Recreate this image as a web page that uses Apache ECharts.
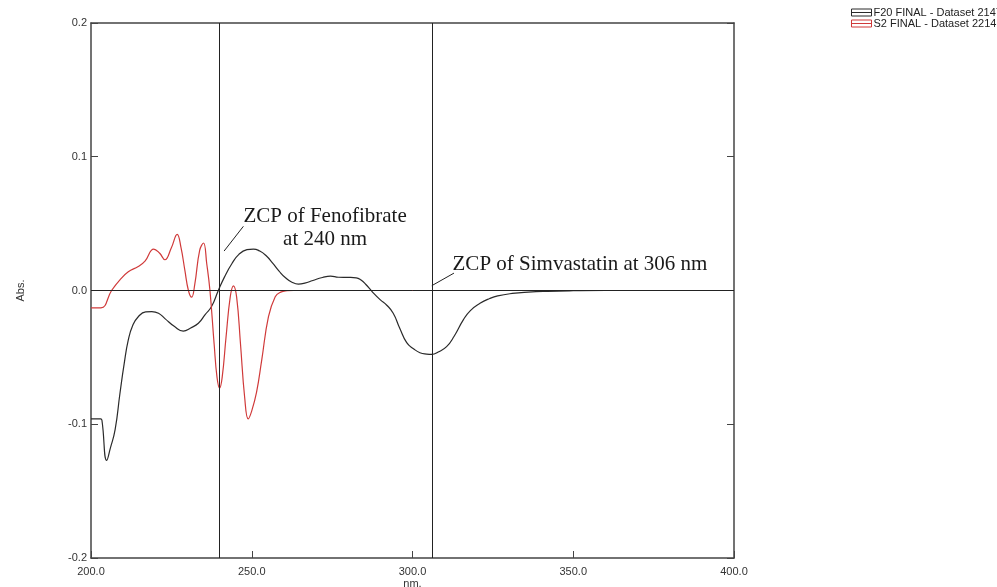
<!DOCTYPE html>
<html>
<head>
<meta charset="utf-8">
<script src="https://cdn.jsdelivr.net/npm/echarts@6/dist/echarts.min.js"></script>
<style>
  html, body { margin: 0; padding: 0; background: #fff; }
  #chart { width: 997px; height: 587px; }
</style>
</head>
<body>
<div id="chart"></div>
<script>
// First-derivative UV spectra (wavelength in nm, absorbance)
const f20Nm = [200.0, 203.0, 203.4, 204.9, 206.0, 207.5, 209.0, 210.3, 211.6, 213.0, 214.7, 217.0, 218.9, 221.0, 223.0, 226.0, 228.7, 231.0, 233.4, 235.5, 237.5, 239.6, 241.5, 243.8, 246.0, 248.5, 250.5, 252.5, 254.5, 256.5, 258.5, 260.5, 262.5, 264.5, 266.5, 269.0, 272.0, 274.5, 277.0, 280.0, 282.5, 284.0, 285.5, 287.5, 290.0, 292.0, 294.0, 296.0, 298.2, 300.3, 302.3, 304.4, 306.0, 308.0, 310.6, 313.0, 315.8, 318.0, 321.0, 324.0, 326.5, 331.0, 336.0, 342.0, 350.0, 360.0, 400.0];
const f20Abs = [-0.096, -0.096, -0.097, -0.127, -0.118, -0.104, -0.077, -0.055, -0.037, -0.026, -0.0196, -0.016, -0.0158, -0.017, -0.021, -0.027, -0.0303, -0.028, -0.0245, -0.018, -0.012, 0.0, 0.010, 0.020, 0.027, 0.0305, 0.031, 0.0295, 0.026, 0.0205, 0.0145, 0.0095, 0.0062, 0.0048, 0.0055, 0.0075, 0.0097, 0.0107, 0.0099, 0.0098, 0.0095, 0.0078, 0.0045, -0.001, -0.007, -0.011, -0.017, -0.028, -0.039, -0.0435, -0.0465, -0.0475, -0.0477, -0.046, -0.042, -0.034, -0.022, -0.015, -0.0096, -0.006, -0.0040, -0.0022, -0.0012, -0.0006, -0.0002, 0.0, 0.0];

const s2Nm = [200.0, 203.1, 206.4, 209.0, 211.6, 214.7, 216.8, 219.5, 221.3, 223.0, 225.0, 226.8, 228.0, 229.2, 230.3, 231.3, 232.3, 233.8, 235.0, 236.0, 237.0, 238.3, 239.2, 240.0, 240.8, 242.0, 243.3, 244.3, 245.3, 246.5, 247.8, 248.9, 250.0, 251.5, 253.1, 255.2, 257.3, 259.0, 261.0, 263.0, 400.0];
const s2Abs = [-0.013, -0.013, 0.0, 0.008, 0.014, 0.018, 0.022, 0.031, 0.028, 0.023, 0.032, 0.042, 0.032, 0.015, 0.0, -0.005, 0.005, 0.030, 0.0355, 0.020, 0.0, -0.040, -0.065, -0.073, -0.065, -0.035, -0.005, 0.0035, -0.005, -0.040, -0.080, -0.096, -0.090, -0.076, -0.052, -0.0196, -0.0046, -0.0012, -0.0002, 0.0, 0.0];

const seriesNames = ['F20 FINAL - Dataset 2147', 'S2 FINAL - Dataset 2214'];
const xTicks = [200, 250, 300, 350, 400];
const yTicks = [-0.2, -0.1, 0.0, 0.1, 0.2];

// Zero-crossing wavelengths marked by vertical lines
const zcpFenofibrate = 240;
const zcpSimvastatin = 306;

const zip = (xs, ys) => xs.map((x, i) => [x, ys[i]]);

const axisColor = '#444';
const labelFont = { fontFamily: 'Liberation Sans', fontSize: 11, color: '#333' };
const noteFont = { fontFamily: 'Liberation Serif', fontSize: 21, color: '#1a1a1a' };

const chart = echarts.init(document.getElementById('chart'));
chart.setOption({
  animation: false,
  backgroundColor: '#fff',
  grid: { left: 91, right: 263, top: 23, bottom: 29, containLabel: false, outerBoundsMode: 'none' },
  legend: {
    orient: 'vertical',
    left: 851,
    top: 7,
    padding: 0,
    itemWidth: 20,
    itemHeight: 7,
    itemGap: 0,
    icon: 'path://M0,0H20V7H0ZM0,3.5H20',
    textStyle: { fontFamily: 'Liberation Sans', fontSize: 11, color: '#222', lineHeight: 10, padding: [0, 0, 0, -3] },
    data: seriesNames.map((n, i) => ({
      name: n,
      itemStyle: { color: 'rgba(0,0,0,0)', borderColor: i === 0 ? '#2a2a2a' : '#d03a3a', borderWidth: 1 }
    }))
  },
  xAxis: [{
    type: 'value', min: xTicks[0], max: xTicks[xTicks.length - 1], interval: 50,
    name: 'nm.', nameLocation: 'middle', nameGap: 20, nameMoveOverlap: false,
    nameTextStyle: Object.assign({ lineHeight: 11 }, labelFont),
    axisLine: { show: true, onZero: false, lineStyle: { color: axisColor, width: 1.5 } },
    axisTick: { show: true, inside: true, length: 7, lineStyle: { color: axisColor } },
    axisLabel: Object.assign({ margin: 8, formatter: v => v.toFixed(1) }, labelFont),
    splitLine: { show: false }
  }, {
    type: 'value', position: 'top', min: 200, max: 400,
    axisLine: { show: true, onZero: false, lineStyle: { color: axisColor, width: 1.5 } },
    axisTick: { show: false }, axisLabel: { show: false }, splitLine: { show: false }
  }],
  yAxis: [{
    type: 'value', min: yTicks[0], max: yTicks[yTicks.length - 1], interval: 0.1,
    name: 'Abs.', nameLocation: 'middle', nameGap: 65, nameRotate: 90, nameMoveOverlap: false,
    nameTextStyle: labelFont,
    axisLine: { show: true, onZero: false, lineStyle: { color: axisColor, width: 1.5 } },
    axisTick: { show: true, inside: true, length: 7, lineStyle: { color: axisColor } },
    axisLabel: Object.assign({ margin: 4, formatter: v => v.toFixed(1) }, labelFont),
    splitLine: { show: false }
  }, {
    type: 'value', position: 'right', min: -0.2, max: 0.2, interval: 0.1,
    axisLine: { show: true, onZero: false, lineStyle: { color: axisColor, width: 1.5 } },
    axisTick: { show: true, inside: true, length: 7, lineStyle: { color: axisColor } },
    axisLabel: { show: false }, splitLine: { show: false }
  }],
  series: [{
    name: seriesNames[0],
    type: 'line',
    data: zip(f20Nm, f20Abs),
    showSymbol: false,
    smooth: 0.5,
    lineStyle: { color: '#2a2a2a', width: 1.2 },
    itemStyle: { color: '#2a2a2a' },
    z: 3,
    markLine: {
      silent: true,
      symbol: 'none',
      label: { show: false },
      lineStyle: { color: '#222', width: 1, type: 'solid' },
      data: [
        { yAxis: 0 },
        { xAxis: zcpFenofibrate },
        { xAxis: zcpSimvastatin },
        [{ coord: [247.4, 0.048] }, { coord: [241.4, 0.0295] }],
        [{ coord: [312.9, 0.013] }, { coord: [306.0, 0.0036] }]
      ]
    },
    markPoint: {
      silent: true,
      symbol: 'circle',
      symbolSize: 0,
      label: Object.assign({ show: true, position: 'inside', align: 'center', lineHeight: 23 }, noteFont),
      data: [
        { coord: [272.8, 0.0465], label: { formatter: 'ZCP of Fenofibrate\nat 240 nm' } },
        { coord: [352.1, 0.0195], label: { formatter: 'ZCP of Simvastatin at 306 nm' } }
      ]
    }
  }, {
    name: seriesNames[1],
    type: 'line',
    data: zip(s2Nm, s2Abs),
    showSymbol: false,
    smooth: 0.45,
    lineStyle: { color: '#d03a3a', width: 1.2 },
    itemStyle: { color: '#d03a3a' },
    z: 4
  }]
});
</script>
</body>
</html>
